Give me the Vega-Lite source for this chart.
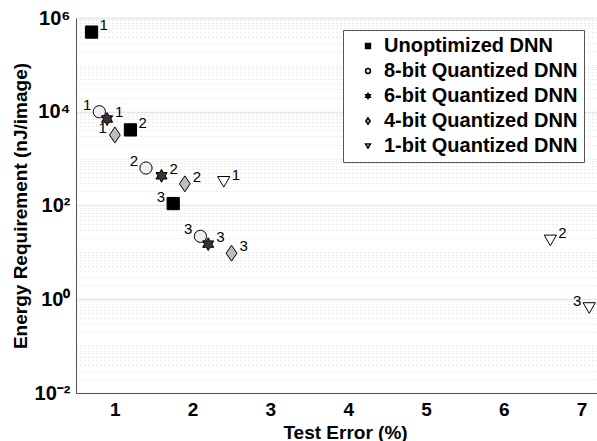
{
  "$schema": "https://vega.github.io/schema/vega-lite/v6.json",
  "width": 521,
  "height": 375,
  "autosize": {"type": "none"},
  "padding": {"left": 76, "top": 18, "right": 0, "bottom": 48},
  "background": "white",
  "config": {
    "view": {"stroke": null},
    "font": "Liberation Sans"
  },
  "data": {
    "values": [
      {"series": "Unoptimized DNN", "id": 1, "err": 0.7, "energy": 500000},
      {"series": "Unoptimized DNN", "id": 2, "err": 1.2, "energy": 4100},
      {"series": "Unoptimized DNN", "id": 3, "err": 1.75, "energy": 110},
      {"series": "8-bit Quantized DNN", "id": 1, "err": 0.8, "energy": 10000},
      {"series": "8-bit Quantized DNN", "id": 2, "err": 1.4, "energy": 630},
      {"series": "8-bit Quantized DNN", "id": 3, "err": 2.1, "energy": 22},
      {"series": "6-bit Quantized DNN", "id": 1, "err": 0.9, "energy": 7000},
      {"series": "6-bit Quantized DNN", "id": 2, "err": 1.6, "energy": 430},
      {"series": "6-bit Quantized DNN", "id": 3, "err": 2.2, "energy": 15},
      {"series": "4-bit Quantized DNN", "id": 1, "err": 1.0, "energy": 3200},
      {"series": "4-bit Quantized DNN", "id": 2, "err": 1.9, "energy": 290},
      {"series": "4-bit Quantized DNN", "id": 3, "err": 2.5, "energy": 9.6},
      {"series": "1-bit Quantized DNN", "id": 1, "err": 2.4, "energy": 320},
      {"series": "1-bit Quantized DNN", "id": 2, "err": 6.6, "energy": 18},
      {"series": "1-bit Quantized DNN", "id": 3, "err": 7.1, "energy": 0.65}
    ]
  },
  "encoding": {
    "x": {
      "field": "err", "type": "quantitative",
      "scale": {"domain": [0.5, 7.2], "nice": false, "zero": false},
      "axis": {
        "title": "Test Error (%)",
        "values": [1, 2, 3, 4, 5, 6, 7],
        "format": "d",
        "grid": false,
        "domain": true,
        "domainColor": "#555555",
        "domainWidth": 1,
        "ticks": false,
        "labelFont": "Liberation Sans",
        "labelFontSize": 19,
        "labelFontWeight": "bold",
        "labelColor": "black",
        "labelPadding": 7,
        "titleFont": "Liberation Sans",
        "titleFontSize": 19,
        "titleFontWeight": "bold",
        "titleColor": "black",
        "titleX": 269,
        "titleY": 45,
        "titleBaseline": "alphabetic"
      }
    },
    "y": {
      "field": "energy", "type": "quantitative",
      "scale": {"type": "log", "domain": [0.01, 1000000], "nice": false},
      "axis": {
        "title": "Energy Requirement (nJ/image)",
        "values": [0.01,0.02,0.03,0.04,0.05,0.06,0.07,0.08,0.09,0.1,0.2,0.3,0.4,0.5,0.6,0.7,0.8,0.9,1,2,3,4,5,6,7,8,9,10,20,30,40,50,60,70,80,90,100,200,300,400,500,600,700,800,900,1000,2000,3000,4000,5000,6000,7000,8000,9000,10000,20000,30000,40000,50000,60000,70000,80000,90000,100000,200000,300000,400000,500000,600000,700000,800000,900000,1000000],
        "labelExpr": "datum.value == 0.01 ? '10⁻²' : datum.value == 1 ? '10⁰' : datum.value == 100 ? '10²' : datum.value == 10000 ? '10⁴' : datum.value == 1000000 ? '10⁶' : ''",
        "grid": true,
        "domain": true,
        "domainColor": "#555555",
        "domainWidth": 1,
        "gridDash": {"condition": {"test": "datum.value == 0.01 || datum.value == 1 || datum.value == 100 || datum.value == 10000 || datum.value == 1000000", "value": []}, "value": [1, 3]},
        "gridColor": {"condition": {"test": "datum.value == 0.01 || datum.value == 1 || datum.value == 100 || datum.value == 10000 || datum.value == 1000000", "value": "#e6e6e6"}, "value": "#d6d6d6"},
        "gridWidth": {"condition": {"test": "datum.value == 0.01 || datum.value == 1 || datum.value == 100 || datum.value == 10000 || datum.value == 1000000", "value": 1.5}, "value": 1},
        "ticks": false,
        "labelFont": "Liberation Sans",
        "labelFontSize": 20,
        "labelFontWeight": "bold",
        "labelColor": "black",
        "labelPadding": 6,
        "labelOverlap": false,
        "titleFont": "Liberation Sans",
        "titleFontSize": 19,
        "titleFontWeight": "bold",
        "titleColor": "black",
        "titlePadding": 4
      }
    }
  },
  "layer": [
    {
      "mark": {"type": "point", "filled": true, "stroke": "black", "strokeWidth": 1, "opacity": 1, "size": 150},
      "encoding": {
        "shape": {
          "field": "series", "type": "nominal",
          "scale": {
            "domain": ["Unoptimized DNN", "8-bit Quantized DNN", "6-bit Quantized DNN", "4-bit Quantized DNN", "1-bit Quantized DNN"],
            "range": ["square", "circle", "M0,-1.05L0.303,-0.525L0.909,-0.525L0.606,0L0.909,0.525L0.303,0.525L0,1.05L-0.303,0.525L-0.909,0.525L-0.606,0L-0.909,-0.525L-0.303,-0.525Z", "M0,-1.3L0.88,0L0,1.3L-0.88,0Z", "triangle-down"]
          },
          "legend": {
            "title": null,
            "orient": "none",
            "legendX": 267,
            "legendY": 12,
            "fillColor": "white",
            "strokeColor": "#555555",
            "padding": 6,
            "symbolOffset": 9,
            "symbolSize": 24,
            "labelFont": "Liberation Sans",
            "labelFontSize": 20,
            "labelFontWeight": "bold",
            "labelColor": "black",
            "labelOffset": 6,
            "rowPadding": 5,
            "labelLimit": 400,
            "encode": {"symbols": {"update": {"stroke": {"value": "black"}, "strokeWidth": {"value": 1}, "size": {"value": 24}}}}
          }
        },
        "fill": {
          "field": "series", "type": "nominal",
          "scale": {
            "domain": ["Unoptimized DNN", "8-bit Quantized DNN", "6-bit Quantized DNN", "4-bit Quantized DNN", "1-bit Quantized DNN"],
            "range": ["#000000", "#efefef", "#333333", "#bdbdbd", "#ffffff"]
          },
          "legend": {
            "title": null,
            "orient": "none",
            "legendX": 267,
            "legendY": 12,
            "fillColor": "white",
            "strokeColor": "#555555",
            "padding": 6,
            "symbolOffset": 9,
            "symbolSize": 24,
            "labelFont": "Liberation Sans",
            "labelFontSize": 20,
            "labelFontWeight": "bold",
            "labelColor": "black",
            "labelOffset": 6,
            "rowPadding": 5,
            "labelLimit": 400,
            "encode": {"symbols": {"update": {"stroke": {"value": "black"}, "strokeWidth": {"value": 1}, "size": {"value": 24}}}}
          }
        }
      }
    },
    {
      "transform": [{"filter": "!(datum.series == '8-bit Quantized DNN' || (datum.series == '4-bit Quantized DNN' && datum.id == 1) || (datum.series == 'Unoptimized DNN' && datum.id == 3) || (datum.series == '1-bit Quantized DNN' && datum.id == 3))"}],
      "mark": {"type": "text", "align": "left", "baseline": "middle", "dx": 8, "dy": -7, "fontSize": 15, "font": "Liberation Sans", "color": "black"},
      "encoding": {"text": {"field": "id", "type": "nominal"}}
    },
    {
      "transform": [{"filter": "datum.series == '8-bit Quantized DNN' || (datum.series == '4-bit Quantized DNN' && datum.id == 1) || (datum.series == 'Unoptimized DNN' && datum.id == 3) || (datum.series == '1-bit Quantized DNN' && datum.id == 3)"}],
      "mark": {"type": "text", "align": "right", "baseline": "middle", "dx": -8, "dy": -7, "fontSize": 15, "font": "Liberation Sans", "color": "black"},
      "encoding": {"text": {"field": "id", "type": "nominal"}}
    }
  ]
}
